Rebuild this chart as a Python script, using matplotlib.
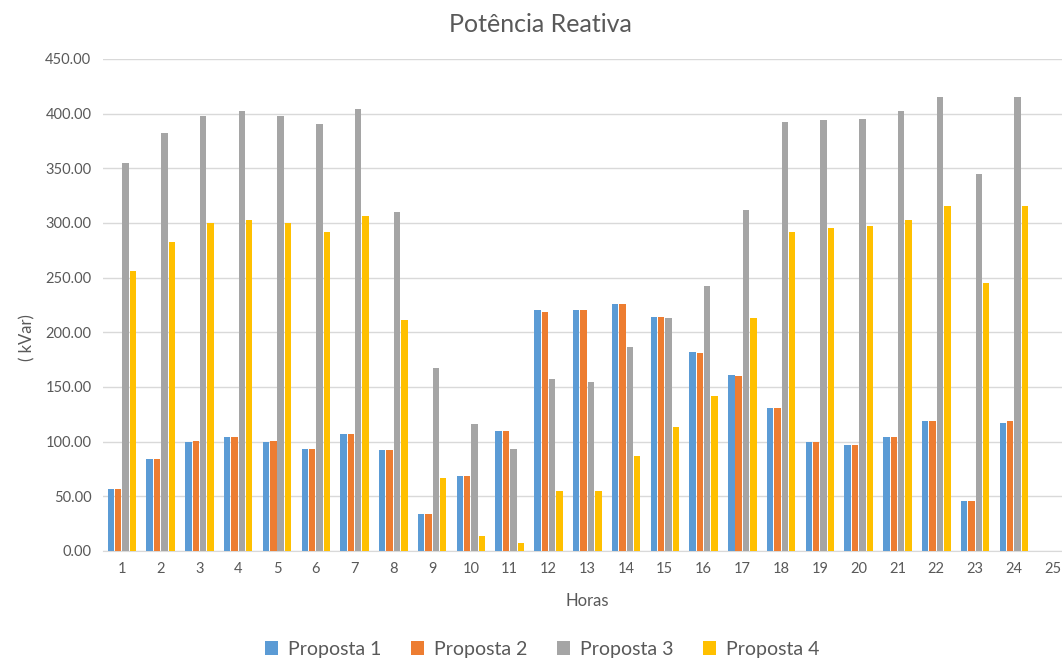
import numpy as np
import matplotlib
matplotlib.use("Agg")
import matplotlib.pyplot as plt

plt.rcParams['font.family'] = ['Lato', 'DejaVu Sans']

horas = [str(h) for h in range(1, 26)]
proposta_1 = [57, 84, 100, 104, 100, 93, 107, 92, 34, 69, 110, 220, 220, 226,
              214, 182, 161, 131, 100, 97, 104, 119, 46, 117]
proposta_2 = [57, 84, 101, 104, 101, 93, 107, 92, 34, 69, 110, 219, 220, 226,
              214, 181, 160, 131, 100, 97, 104, 119, 46, 119]
proposta_3 = [355, 382, 398, 402, 398, 391, 404, 310, 167, 116, 93, 157, 155, 187,
              213, 242, 312, 392, 394, 395, 402, 415, 345, 415]
proposta_4 = [256, 283, 300, 303, 300, 292, 306, 211, 67, 14, 7, 55, 55, 87,
              113, 142, 213, 292, 295, 297, 303, 316, 245, 316]

series = [proposta_1, proposta_2, proposta_3, proposta_4]
nomes = ["Proposta 1", "Proposta 2", "Proposta 3", "Proposta 4"]
cores = ["#5B9BD5", "#ED7D31", "#A5A5A5", "#FFC000"]
yticks = np.arange(0, 451, 50)

fig = plt.figure(figsize=(10.62, 6.60), dpi=100)
ax = fig.add_axes([102.5 / 1062, 109 / 660, (1072 - 102.5) / 1062, (551 - 59) / 660])

x = np.arange(len(horas))
step = 0.19
width = 0.165
for i, (vals, nome, cor) in enumerate(zip(series, nomes, cores)):
    pos = x[:len(vals)] + (i - 1.5) * step
    ax.bar(pos, vals, width=width, color=cor, label=nome, zorder=3)

ax.set_xlim(-0.5, len(horas) - 0.5)
ax.set_ylim(0, 450)
ax.set_xticks(x)
ax.set_xticklabels(horas)
ax.set_yticks(yticks)
ax.set_yticklabels([f"{v:.2f}" for v in yticks])

ax.grid(axis="y", color="#D9D9D9", linewidth=1.0, zorder=0)
for s in ["top", "right", "left"]:
    ax.spines[s].set_visible(False)
ax.spines["bottom"].set_color("#D9D9D9")
ax.tick_params(axis="both", length=0, labelsize=10.5, colors="#595959", pad=8)

ax.set_xlabel("Horas", fontsize=12, color="#595959", labelpad=12)
fig.text(27 / 1062, 1 - 338 / 660, "( kVar)", rotation=90, fontsize=12,
         color="#595959", ha="center", va="center")
fig.text(540 / 1062, 1 - 25 / 660, "Potência Reativa", fontsize=18,
         color="#595959", ha="center", va="center")

fig.legend(loc="center", bbox_to_anchor=(542 / 1062, 1 - 649 / 660), ncol=4,
           frameon=False, fontsize=14, handlelength=0.7, handleheight=0.7,
           handletextpad=0.5, columnspacing=1.5, labelcolor="#595959")

fig.savefig("out.png", dpi=100, facecolor="white")
